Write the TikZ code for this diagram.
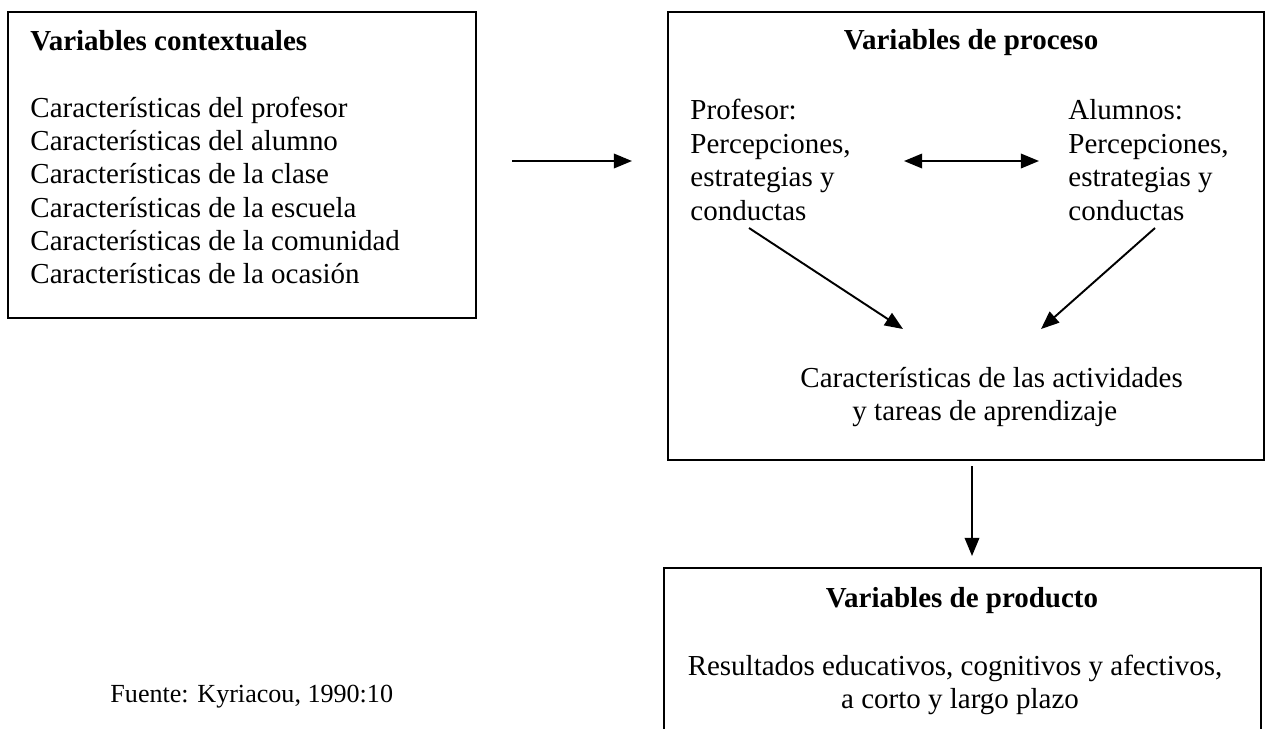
\documentclass[tikz,border=0pt]{standalone}
\usepackage{fontspec}
\setmainfont{Liberation Serif}
\usetikzlibrary{arrows.meta,positioning}

\begin{document}
\begin{tikzpicture}[x=0.414pt, y=-0.414pt,
    box/.style={draw, line width=0.8pt},
    arr/.style={-{Triangle[length=7.5pt,width=6pt]}, line width=0.8pt},
    dblarr/.style={{Triangle[length=7.5pt,width=6pt]}-{Triangle[length=7.5pt,width=6pt]}, line width=0.8pt},
    txt/.style={inner sep=0pt, anchor=base west, font=\fontsize{12}{14}\selectfont},
    head/.style={inner sep=0pt, anchor=base, font=\fontsize{12}{14}\selectfont\bfseries}]
  \useasboundingbox (0,0) rectangle (1267,728);
  \clip (0,0) rectangle (1267,728);
  % Frames
  \draw[box] (8,12) rectangle (476,318);
  \draw[box] (668,12) rectangle (1264,460);
  \draw[box] (664,568) rectangle (1261,760);
  % Variables contextuales
  \node[head, anchor=base west] (ctxhead) at (30,50) {Variables contextuales};
  \foreach \t [count=\i] in {del profesor, del alumno, de la clase, de la escuela, de la comunidad, de la ocasión}
    \node[txt] (ctx\i) at (30,84+33.3*\i) {Características \t};
  % Variables de proceso
  \node[head] (prochead) at (971,49) {Variables de proceso};
  \foreach \t [count=\i] in {Profesor:, {Percepciones,}, {estrategias y}, conductas}
    \node[txt] (prof\i) at (690,86+33.5*\i) {\t};
  \foreach \t [count=\i] in {Alumnos:, {Percepciones,}, {estrategias y}, conductas}
    \node[txt] (alum\i) at (1068,86+33.5*\i) {\t};
  \node[txt] (act1) at (800,387) {Características de las actividades};
  \node[txt] (act2) at (852,420) {y tareas de aprendizaje};
  % Variables de producto
  \node[head] (prodhead) at (962,607) {Variables de producto};
  \node[txt, anchor=base] (prod1) at (955,675) {Resultados educativos, cognitivos y afectivos,};
  \node[txt, anchor=base] (prod2) at (960,708) {a corto y largo plazo};
  \node[txt, font=\fontsize{10.8}{13}\selectfont] (fuente) at (110,702) {Fuente: Kyriacou, 1990:10};
  % Connector ends
  \coordinate (c1) at (512,161);
  \coordinate (c2) at (632,161);
  \coordinate (p1) at (904,161);
  \coordinate (p2) at (1039,161);
  \coordinate (q1) at (749,228);
  \coordinate (q2) at (903,329);
  \coordinate (r1) at (1155,228);
  \coordinate (r2) at (1041,329);
  \coordinate (s1) at (972,466);
  \coordinate (s2) at (972,556);
  % Arrows
  \draw[arr] (c1) -- (c2);
  \draw[dblarr] (p1) -- (p2);
  \draw[arr] (q1) -- (q2);
  \draw[arr] (r1) -- (r2);
  \draw[arr] (s1) -- (s2);
\end{tikzpicture}
\end{document}
